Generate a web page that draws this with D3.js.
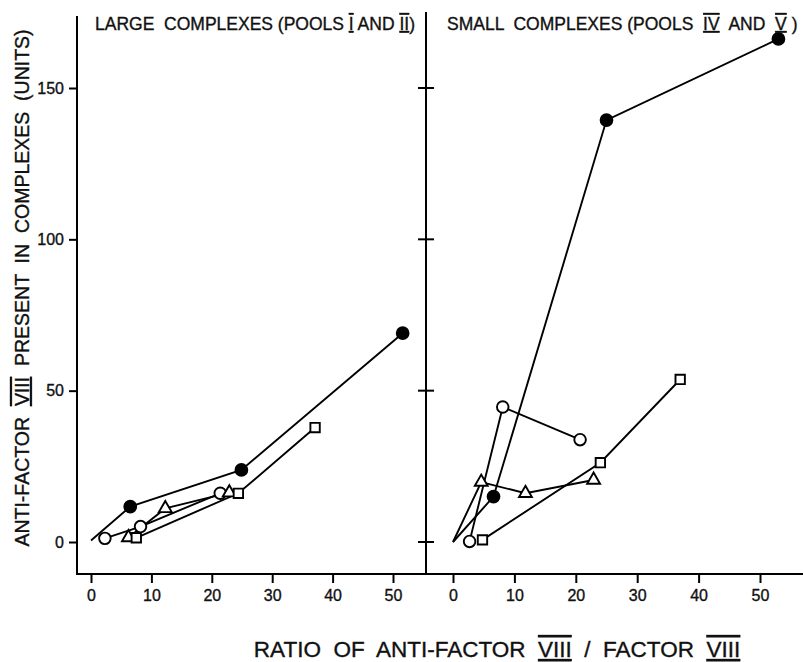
<!DOCTYPE html>
<html>
<head>
<meta charset="utf-8">
<script src="https://cdn.jsdelivr.net/npm/d3@7"></script>
<style>
  body { margin: 0; background: #fff; }
  svg { display: block; }
  text { font-family: "Liberation Sans", "DejaVu Sans", sans-serif; fill: #111; stroke: #111; stroke-width: 0.35px; }
  .rn { text-decoration: underline overline; }
</style>
</head>
<body>
<svg id="graph" width="803" height="662"></svg>
<script>
var w = 803, h = 662;

// tick values
var yTicks = [0, 50, 100, 150];
var xTicks = [0, 10, 20, 30, 40, 50];

// large complexes (pools I and II)
var largeSolidX = [0, 6.5, 24.9, 51.6];
var largeSolidY = [0.5, 11.7, 23.8, 69.0];
var largeOpenX = [2.3, 8.2, 21.4];
var largeOpenY = [1.2, 5.1, 16.1];
var largeTriX = [6.2, 12.3, 22.9];
var largeTriY = [1.5, 11.1, 16.3];
var largeSqX = [7.5, 24.4, 37.1];
var largeSqY = [1.4, 16.1, 37.8];

// small complexes (pools IV and V)
var smallSolidX = [0, 6.6, 25.0, 53.0];
var smallSolidY = [0, 15.0, 139.4, 166.2];
var smallOpenX = [2.7, 8.1, 20.7];
var smallOpenY = [0.2, 44.6, 33.8];
var smallTriX = [0, 4.6, 11.8, 22.9];
var smallTriY = [0, 19.8, 16.1, 20.5];
var smallSqX = [4.8, 24.0, 37.0];
var smallSqY = [0.7, 26.2, 53.7];

var svg = d3.select("#graph");

var y = d3.scaleLinear().domain([0, 150]).range([542, 88]);
var xL = d3.scaleLinear().domain([0, 50]).range([91, 393]);
var xR = d3.scaleLinear().domain([0, 50]).range([453, 760]);

var axisY = 574, leftX = 77, divX = 426;

// frame lines
svg.append("line").attr("x1", leftX).attr("x2", leftX).attr("y1", 16).attr("y2", axisY)
  .attr("stroke", "#000").attr("stroke-width", 2);
svg.append("line").attr("x1", divX).attr("x2", divX).attr("y1", 12).attr("y2", axisY)
  .attr("stroke", "#000").attr("stroke-width", 2);
svg.append("line").attr("x1", 76).attr("x2", w).attr("y1", axisY).attr("y2", axisY)
  .attr("stroke", "#000").attr("stroke-width", 2);

// y axis
var gy = svg.append("g").attr("transform", "translate(" + leftX + ",0)")
  .call(d3.axisLeft(y).tickValues(yTicks).tickSize(8).tickSizeOuter(0).tickPadding(5));
gy.select(".domain").remove();
gy.selectAll("line").attr("stroke", "#000").attr("stroke-width", 2);
gy.selectAll("text").style("font-size", "16px").style("font-family", "Liberation Sans, sans-serif");

// divider ticks (cross both sides)
svg.append("g").selectAll("line").data(yTicks).enter().append("line")
  .attr("x1", divX - 8).attr("x2", divX + 8)
  .attr("y1", function(d){ return y(d); }).attr("y2", function(d){ return y(d); })
  .attr("stroke", "#000").attr("stroke-width", 2);

// x axes
[xL, xR].forEach(function(sc){
  var g = svg.append("g").attr("transform", "translate(0," + axisY + ")")
    .call(d3.axisBottom(sc).tickValues(xTicks).tickSize(9).tickSizeOuter(0).tickPadding(7));
  g.select(".domain").remove();
  g.selectAll("line").attr("stroke", "#000").attr("stroke-width", 2);
  g.selectAll("text").style("font-size", "16px").style("font-family", "Liberation Sans, sans-serif");
});

function series(xs, ys, lead, sym, filled) {
  return { xs: xs, ys: ys, lead: lead, sym: sym, filled: filled };
}
var panels = [
  { x: xL, list: [
    series(largeSolidX, largeSolidY, 1, d3.symbolCircle, true),
    series(largeOpenX, largeOpenY, 0, d3.symbolCircle, false),
    series(largeTriX, largeTriY, 0, d3.symbolTriangle, false),
    series(largeSqX, largeSqY, 0, d3.symbolSquare, false)
  ]},
  { x: xR, list: [
    series(smallSolidX, smallSolidY, 1, d3.symbolCircle, true),
    series(smallOpenX, smallOpenY, 0, d3.symbolCircle, false),
    series(smallTriX, smallTriY, 1, d3.symbolTriangle, false),
    series(smallSqX, smallSqY, 0, d3.symbolSquare, false)
  ]}
];

var line = d3.line();
panels.forEach(function(p){
  p.list.forEach(function(s){
    var pts = s.xs.map(function(v, i){ return [p.x(v), y(s.ys[i])]; });
    svg.append("path").attr("d", line(pts)).attr("fill", "none")
      .attr("stroke", "#000").attr("stroke-width", 1.9);
  });
  p.list.forEach(function(s){
    var pts = s.xs.map(function(v, i){ return [p.x(v), y(s.ys[i])]; }).slice(s.lead);
    var size = s.sym === d3.symbolSquare ? 88 : (s.sym === d3.symbolTriangle ? 72 : (s.filled ? 110 : 105));
    svg.append("g").selectAll("path").data(pts).enter().append("path")
      .attr("transform", function(d){ return "translate(" + d[0] + "," + d[1] + ")"; })
      .attr("d", d3.symbol().type(s.sym).size(size))
      .attr("fill", s.filled ? "#000" : "#fff")
      .attr("stroke", "#000").attr("stroke-width", 1.9);
  });
});

// titles
function title(x, yy, parts, size, anchor, rot) {
  var t = svg.append("text").attr("x", x).attr("y", yy)
    .attr("text-anchor", anchor || "start").style("font-size", size + "px")
    .attr("xml:space", "preserve");
  if (rot) t.attr("transform", "rotate(-90," + x + "," + yy + ")");
  parts.forEach(function(pt){
    var ts = t.append("tspan").text(pt[0]);
    if (pt[1]) ts.attr("class", "rn");
  });
  return t;
}
title(95, 30, [["LARGE  COMPLEXES (POOLS "], ["I", 1], [" AND "], ["II", 1], [")"]], 17.5);
title(447, 30, [["SMALL  COMPLEXES (POOLS  "], ["IV", 1], ["  AND  "], ["V", 1], [" )"]], 17.5);
title(29, 288, [["ANTI-FACTOR  "], ["VIII", 1], ["  PRESENT  IN  COMPLEXES  (UNITS)"]], 19.5, "middle", true);
title(497, 657, [["RATIO  OF  ANTI-FACTOR  "], ["VIII", 1], ["  /  FACTOR  "], ["VIII", 1]], 22.5, "middle");
</script>
</body>
</html>
